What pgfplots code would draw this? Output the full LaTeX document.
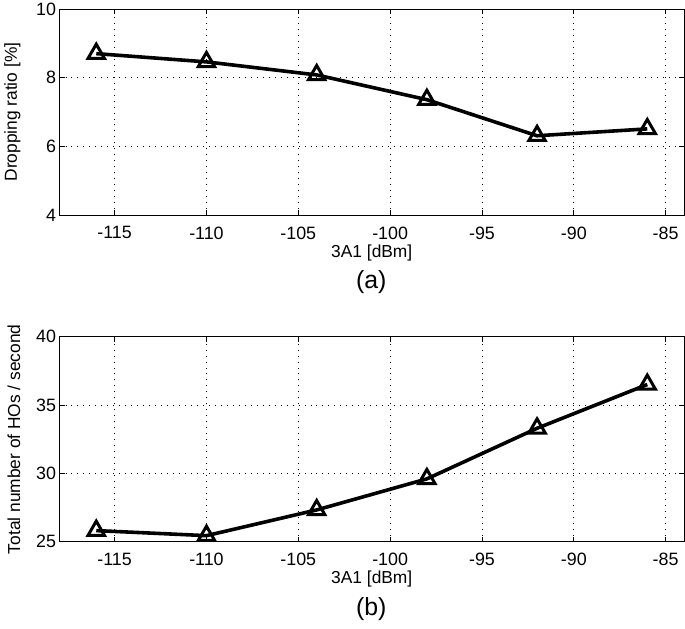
\documentclass[border=0pt]{standalone}
\usepackage{pgfplots}
\pgfplotsset{compat=1.18}
\usepackage{fontspec}
\setmainfont{Liberation Sans}
\begin{document}
\pgfplotsset{
  common/.style={
    scale only axis,
    anchor=south west,
    width=627bp,
    xmin=-118, xmax=-84,
    xtick={-115,-110,-105,-100,-95,-90,-85},
    tick align=inside,
    major tick length=5bp,
    tick style={black, line width=0.7bp},
    axis line style={black, line width=0.9bp},
    grid=major,
    major grid style={black, dash pattern=on 1bp off 5bp, line width=0.8bp},
    /pgf/number format/assume math mode=true,
    tick label style={font=\fontsize{18}{20}\selectfont},
    label style={font=\fontsize{17.5}{20}\selectfont},
    xticklabel style={yshift=-8bp},
    xlabel style={yshift=1.5bp},
    ylabel style={yshift=9bp},
  },
  myline/.style={black, line width=3.6bp, mark=triangle, mark size=9.5bp,
    mark options={solid, fill=white, line width=3bp}},
}
\begin{tikzpicture}
\begin{axis}[common, at={(57bp,415bp)}, height=207bp,
  ymin=4, ymax=10, ytick={4,6,8,10},
  xlabel={3A1 [dBm]}, ylabel={Dropping ratio [\%]}]
\addplot[myline] coordinates {(-116,8.70) (-110,8.46) (-104,8.08) (-98,7.36) (-92,6.31) (-86,6.51)};
\end{axis}
\node[font=\fontsize{25}{28}\selectfont] at (370bp,348bp) {(a)};
\begin{axis}[common, at={(57bp,87bp)}, height=206bp,
  ymin=25, ymax=40, ytick={25,30,35,40},
  xlabel={3A1 [dBm]}, ylabel={Total number of HOs / second}]
\addplot[myline] coordinates {(-116,25.82) (-110,25.45) (-104,27.33) (-98,29.6) (-92,33.3) (-86,36.5)};
\end{axis}
\node[font=\fontsize{25}{28}\selectfont] at (370bp,19bp) {(b)};
\pgfresetboundingbox
\path[use as bounding box] (0,0) rectangle (685bp,631bp);
\end{tikzpicture}
\end{document}
